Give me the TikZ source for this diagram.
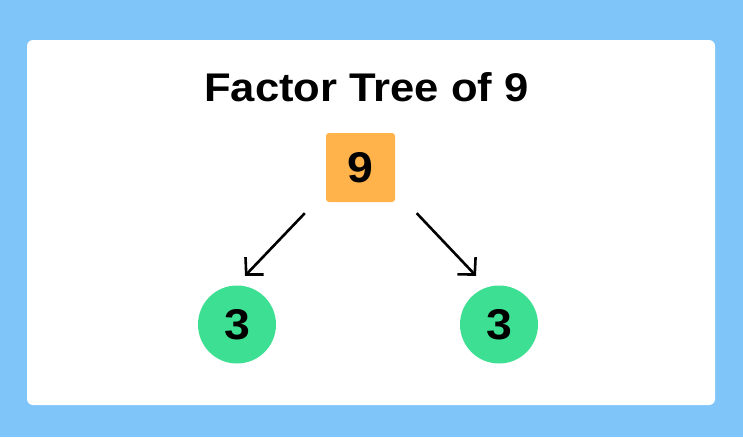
\documentclass[tikz,border=0pt]{standalone}
\usepackage{fontspec}
\setmainfont{Liberation Sans}
\usetikzlibrary{arrows.meta}
\definecolor{bgblue}{HTML}{80C5F9}
\definecolor{boxorange}{HTML}{FFB34A}
\definecolor{circgreen}{HTML}{3DDF92}
\tikzset{
  numbox/.style={fill=boxorange, rounded corners=3pt, minimum size=69pt, inner sep=0pt, font=\fontsize{43}{43}\selectfont\bfseries},
  numcirc/.style={circle, fill=circgreen, minimum size=78pt, inner sep=0pt, font=\fontsize{43}{43}\selectfont\bfseries},
  arr/.style={line width=2.6pt, -{Straight Barb[length=12pt,width=25pt,line width=2.6pt]}},
}
\begin{document}
\begin{tikzpicture}[x=1pt,y=-1pt]
\useasboundingbox (0,0) rectangle (743,437);
\fill[bgblue] (0,0) rectangle (743,437);
\fill[white, rounded corners=6pt] (27,40) rectangle (715,405);
\node[font=\fontsize{40}{40}\selectfont\bfseries, xscale=1.09, transform shape] (title) at (366.5,87) {Factor Tree of 9};
\node[numbox] (sq) at (360.5,167.5) {\scalebox{1.08}[1]{9}};
\node[numcirc] (c1) at (237,324.5) {\scalebox{1.08}[1]{3}};
\node[numcirc] (c2) at (499,324.5) {\scalebox{1.08}[1]{3}};
\draw[arr] ([xshift=-21pt,yshift=-11pt]sq.south west) -- ([xshift=8pt,yshift=9.5pt]c1.north);
\draw[arr] ([xshift=21.5pt,yshift=-11pt]sq.south east) -- ([xshift=-23pt,yshift=9.5pt]c2.north);
\end{tikzpicture}
\end{document}
